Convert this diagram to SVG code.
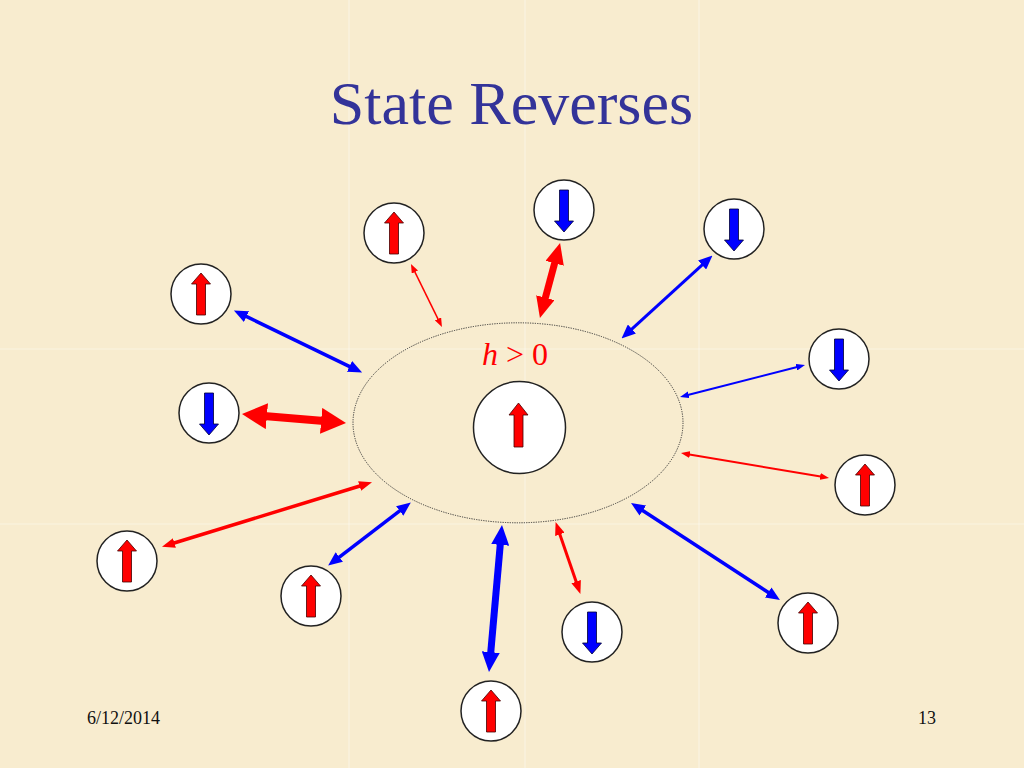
<svg xmlns="http://www.w3.org/2000/svg" width="1024" height="768" viewBox="0 0 1024 768">
<defs>
<style>
.node circle{fill:#fff;stroke:#222;stroke-width:1.5}
.up{fill:#f00;stroke:#400;stroke-width:0.8}
.dn{fill:#00f;stroke:#003;stroke-width:0.8}
.cr{stroke:#f00;fill:none}
.cb{stroke:#00f;fill:none}
.grid line{stroke:#fff;stroke-width:1.2;opacity:0.4}
</style>
<polygon id="upA" points="0,-21 9.5,-10 4.5,-10 4.5,21 -4.5,21 -4.5,-10 -9.5,-10"/>
<polygon id="dnA" points="0,22 9.5,11 4.5,11 4.5,-20 -4.5,-20 -4.5,11 -9.5,11"/>
<marker id="rS" markerUnits="userSpaceOnUse" markerWidth="9" markerHeight="7" refX="3" refY="3.5" orient="auto-start-reverse"><path d="M0,0 L9,3.5 L0,7 z" fill="#f00"/></marker>
<marker id="rS2" markerUnits="userSpaceOnUse" markerWidth="9" markerHeight="7" refX="2" refY="3.5" orient="auto-start-reverse"><path d="M0,0 L9,3.5 L0,7 z" fill="#f00"/></marker>
<marker id="bS" markerUnits="userSpaceOnUse" markerWidth="9" markerHeight="7" refX="2" refY="3.5" orient="auto-start-reverse"><path d="M0,0 L9,3.5 L0,7 z" fill="#00f"/></marker>
<marker id="rM" markerUnits="userSpaceOnUse" markerWidth="13" markerHeight="10" refX="2" refY="5" orient="auto-start-reverse"><path d="M0,0 L13,5 L0,10 z" fill="#f00"/></marker>
<marker id="bM" markerUnits="userSpaceOnUse" markerWidth="14" markerHeight="12" refX="2" refY="6" orient="auto-start-reverse"><path d="M0,0 L14,6 L0,12 z" fill="#00f"/></marker>
<marker id="rL" markerUnits="userSpaceOnUse" markerWidth="21" markerHeight="19" refX="3" refY="9.5" orient="auto-start-reverse"><path d="M0,0 L21,9.5 L0,19 z" fill="#f00"/></marker>
<marker id="bL" markerUnits="userSpaceOnUse" markerWidth="20" markerHeight="18" refX="3" refY="9" orient="auto-start-reverse"><path d="M0,0 L20,9 L0,18 z" fill="#00f"/></marker>
<marker id="rX" markerUnits="userSpaceOnUse" markerWidth="25" markerHeight="26" refX="3" refY="13" orient="auto-start-reverse"><path d="M0,0 L25,13 L0,26 z" fill="#f00"/></marker>
</defs>
<rect width="1024" height="768" fill="#F8ECCF"/>
<g class="grid">
<line x1="349" y1="0" x2="349" y2="768"/><line x1="525" y1="0" x2="525" y2="768"/><line x1="699" y1="0" x2="699" y2="768"/>
<line x1="0" y1="349" x2="1024" y2="349"/><line x1="0" y1="524" x2="1024" y2="524"/>
</g>
<text x="511.5" y="124" text-anchor="middle" font-family="'Liberation Serif', 'Times New Roman', serif" font-size="62" fill="#333399">State Reverses</text>
<g id="connectors">
<line class="cr" x1="413.6" y1="269.4" x2="439.3" y2="321.6" stroke-width="1.5" marker-start="url(#rS)" marker-end="url(#rS)"/>
<line class="cr" x1="555.4" y1="260.4" x2="544.6" y2="300.6" stroke-width="7" marker-start="url(#rL)" marker-end="url(#rL)"/>
<line class="cb" x1="703.6" y1="263.7" x2="630.4" y2="330.3" stroke-width="3" marker-start="url(#bM)" marker-end="url(#bM)"/>
<line class="cb" x1="798.2" y1="366.7" x2="686.8" y2="395.3" stroke-width="2" marker-start="url(#bS)" marker-end="url(#bS)"/>
<line class="cr" x1="822.1" y1="476.8" x2="687.9" y2="454.2" stroke-width="2" marker-start="url(#rS2)" marker-end="url(#rS2)"/>
<line class="cb" x1="244.7" y1="315.7" x2="351.3" y2="367.3" stroke-width="3.5" marker-start="url(#bM)" marker-end="url(#bM)"/>
<line class="cr" x1="263.9" y1="415.9" x2="324.1" y2="421.1" stroke-width="8" marker-start="url(#rX)" marker-end="url(#rX)"/>
<line class="cr" x1="172.5" y1="543.5" x2="361.5" y2="485.5" stroke-width="3.5" marker-start="url(#rM)" marker-end="url(#rM)"/>
<line class="cb" x1="337.7" y1="558.3" x2="401.3" y2="509.7" stroke-width="3.5" marker-start="url(#bM)" marker-end="url(#bM)"/>
<line class="cb" x1="490.5" y1="655.1" x2="500.5" y2="541.9" stroke-width="7" marker-start="url(#bL)" marker-end="url(#bL)"/>
<line class="cr" x1="576.8" y1="583.5" x2="559.2" y2="532.5" stroke-width="3" marker-start="url(#rM)" marker-end="url(#rM)"/>
<line class="cb" x1="769.9" y1="593.5" x2="641.1" y2="509.5" stroke-width="3.5" marker-start="url(#bM)" marker-end="url(#bM)"/>
</g>
<g id="field">
<ellipse cx="518" cy="422.8" rx="165" ry="100" fill="none" stroke="#333" stroke-width="1" stroke-dasharray="1.2,1.2"/>
<text x="482" y="365" font-family="'Liberation Serif', 'Times New Roman', serif" font-size="32" fill="#f00"><tspan font-style="italic">h</tspan> &gt; 0</text>
</g>
<g id="center" class="node"><circle cx="519.5" cy="427.5" r="46"/><polygon class="up" points="518.5,403 528,415 523,415 523,447 514,447 514,415 509,415"/></g>
<g id="n1" class="node"><circle cx="394" cy="233" r="30"/><use href="#upA" class="up" x="394" y="233"/></g>
<g id="n2" class="node"><circle cx="564" cy="210" r="30"/><use href="#dnA" class="dn" x="564" y="210"/></g>
<g id="n3" class="node"><circle cx="734" cy="229" r="30"/><use href="#dnA" class="dn" x="734" y="229"/></g>
<g id="n4" class="node"><circle cx="839" cy="359" r="30"/><use href="#dnA" class="dn" x="839" y="359"/></g>
<g id="n5" class="node"><circle cx="865" cy="485" r="30"/><use href="#upA" class="up" x="865" y="485"/></g>
<g id="n6" class="node"><circle cx="201" cy="294" r="30"/><use href="#upA" class="up" x="201" y="294"/></g>
<g id="n7" class="node"><circle cx="209" cy="413" r="30"/><use href="#dnA" class="dn" x="209" y="413"/></g>
<g id="n8" class="node"><circle cx="127" cy="561" r="30"/><use href="#upA" class="up" x="127" y="561"/></g>
<g id="n9" class="node"><circle cx="311" cy="596" r="30"/><use href="#upA" class="up" x="311" y="596"/></g>
<g id="n10" class="node"><circle cx="592" cy="632" r="30"/><use href="#dnA" class="dn" x="592" y="632"/></g>
<g id="n11" class="node"><circle cx="491" cy="711" r="30"/><use href="#upA" class="up" x="491" y="711"/></g>
<g id="n12" class="node"><circle cx="808" cy="623" r="30"/><use href="#upA" class="up" x="808" y="623"/></g>
<text x="87" y="724" font-family="'Liberation Serif', 'Times New Roman', serif" font-size="18" fill="#111">6/12/2014</text>
<text x="918" y="724" font-family="'Liberation Serif', 'Times New Roman', serif" font-size="18" fill="#111">13</text>
</svg>
